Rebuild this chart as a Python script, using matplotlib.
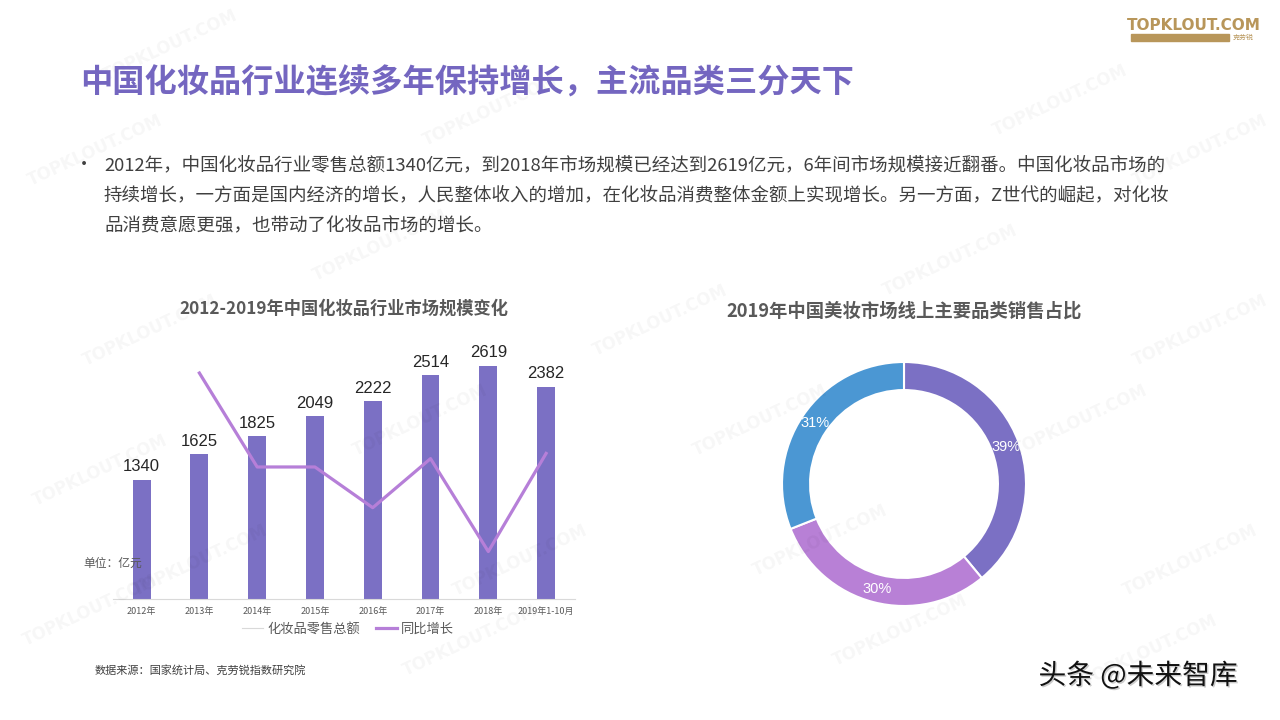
import matplotlib
matplotlib.use('Agg')
import matplotlib.pyplot as plt
from matplotlib.lines import Line2D
from matplotlib.patches import Rectangle
import matplotlib.patheffects as pe

plt.rcParams['font.family'] = ['Noto Sans CJK SC', 'DejaVu Sans']

# data: market size (亿元) and yoy growth (%)
years = ['2012年', '2013年', '2014年', '2015年', '2016年', '2017年', '2018年', '2019年1-10月']
sales = [1340, 1625, 1825, 2049, 2222, 2514, 2619, 2382]
growth = [None, 21.3, 12.3, 12.3, 8.4, 13.1, 4.2, 13.6]

# donut: online category share 2019
shares = [39, 30, 31]
share_colors = ['#7B70C4', '#B880D6', '#4B97D3']

bar_color = '#7B70C4'
line_color = '#B67FD8'
title_color = '#7466C0'
grey = '#595959'

fig = plt.figure(figsize=(12.8, 7.2), dpi=100)

# faint watermarks
wm_pos = [(170, 45), (490, 110), (95, 150), (1060, 100), (1200, 150), (380, 245),
          (950, 260), (660, 320), (150, 330), (100, 470), (420, 420), (760, 420),
          (1080, 420), (200, 560), (520, 560), (820, 540), (1190, 560), (470, 640),
          (90, 610), (900, 630), (1150, 650), (1200, 330)]
for x, y in wm_pos:
    fig.text(x / 1280, 1 - y / 720, 'TOPKLOUT.COM', rotation=25, fontsize=12,
             fontweight='bold', color='#000000', alpha=0.035, ha='center', va='center',
             family='DejaVu Sans')

# page title
fig.text(80 / 1280, 1 - 83 / 720, '中国化妆品行业连续多年保持增长，主流品类三分天下',
         fontsize=23.2, fontweight='bold', color=title_color, va='center')

# body text
body = ['2012年，中国化妆品行业零售总额1340亿元，到2018年市场规模已经达到2619亿元，6年间市场规模接近翻番。中国化妆品市场的',
        '持续增长，一方面是国内经济的增长，人民整体收入的增加，在化妆品消费整体金额上实现增长。另一方面，Z世代的崛起，对化妆',
        '品消费意愿更强，也带动了化妆品市场的增长。']
fig.text(75 / 1280, 1 - 165 / 720, '•', fontsize=13, color='#404040', va='center')
for i, line in enumerate(body):
    fig.text(104 / 1280, 1 - (165 + 30 * i) / 720, line, fontsize=13.3, color='#404040', va='center')

# logo
fig.text(1194 / 1280, 1 - 25 / 720, 'TOPKLOUT.COM', fontsize=11, fontweight='bold',
         color='#B8965A', ha='center', va='center', family='DejaVu Sans')
fig.patches.append(Rectangle((1131 / 1280, 1 - 41 / 720), 98 / 1280, 7 / 720,
                             transform=fig.transFigure, color='#B8965A'))
fig.text(1243 / 1280, 1 - 37.5 / 720, '克劳锐', fontsize=5, color='#B8965A', ha='center', va='center')

# ---- bar chart ----
ax = fig.add_axes([112.7 / 1280, 1 - 599 / 720, 462.3 / 1280, 269 / 720])
x = list(range(len(years)))
ax.bar(x, sales, width=0.31, color=bar_color, zorder=2)
for xi, v in zip(x, sales):
    ax.text(xi, v + 60, str(v), ha='center', va='bottom', fontsize=12,
            color='#262626', family='Liberation Sans')
ax.set_xlim(-0.5, 7.5)
ax.set_ylim(0, 3019)
ax.set_xticks(x)
ax.set_xticklabels(years, fontsize=6.5, color=grey)
ax.tick_params(axis='x', length=0, pad=6)
ax.set_yticks([])
for s in ['top', 'left', 'right']:
    ax.spines[s].set_visible(False)
ax.spines['bottom'].set_color('#d9d9d9')
ax.patch.set_alpha(0)

ax2 = ax.twinx()
gx = [xi for xi, g in zip(x, growth) if g is not None]
gy = [g for g in growth if g is not None]
ax2.plot(gx, gy, color=line_color, lw=2.3, zorder=3)
ax2.set_ylim(-0.345, 25.42)
ax2.set_yticks([])
for s in ['top', 'left', 'right', 'bottom']:
    ax2.spines[s].set_visible(False)

fig.text(344 / 1280, 1 - 309 / 720, '2012-2019年中国化妆品行业市场规模变化', fontsize=12.4,
         fontweight='bold', color=grey, ha='center', va='center')
fig.text(83 / 1280, 1 - 563 / 720, '单位：亿元', fontsize=8.5, color=grey, va='center')

handles = [Line2D([], [], color='#d9d9d9', lw=0.8), Line2D([], [], color=line_color, lw=2.3)]
fig.legend(handles, ['化妆品零售总额', '同比增长'], loc='center', ncol=2,
           bbox_to_anchor=(348 / 1280, 1 - 629 / 720), frameon=False, fontsize=9.5,
           labelcolor=grey, handlelength=1.6, handletextpad=0.3, columnspacing=1.2)

# ---- donut ----
ax3 = fig.add_axes([751.5 / 1280, 83.5 / 720, 305 / 1280, 305 / 720])
ax3.pie(shares, colors=share_colors, startangle=90, counterclock=False,
        wedgeprops=dict(width=0.23, edgecolor='white', linewidth=1.5),
        autopct='%d%%', pctdistance=0.885,
        textprops=dict(color='white', fontsize=10.5, family='Liberation Sans'))
ax3.set_xlim(-1.25, 1.25)
ax3.set_ylim(-1.25, 1.25)
ax3.set_aspect('equal')
fig.text(904 / 1280, 1 - 311 / 720, '2019年中国美妆市场线上主要品类销售占比', fontsize=13.2,
         fontweight='bold', color=grey, ha='center', va='center')

# footer
fig.text(95 / 1280, 1 - 670 / 720, '数据来源：国家统计局、克劳锐指数研究院', fontsize=8,
         color='#404040', va='center')
fig.text(1138 / 1280, 1 - 676 / 720, '头条 @未来智库', fontsize=20, color='#111111',
         ha='center', va='center',
         path_effects=[pe.withSimplePatchShadow(offset=(1, -1), shadow_rgbFace='#aaaaaa', alpha=0.6)])

fig.savefig('out.png', dpi=100)
